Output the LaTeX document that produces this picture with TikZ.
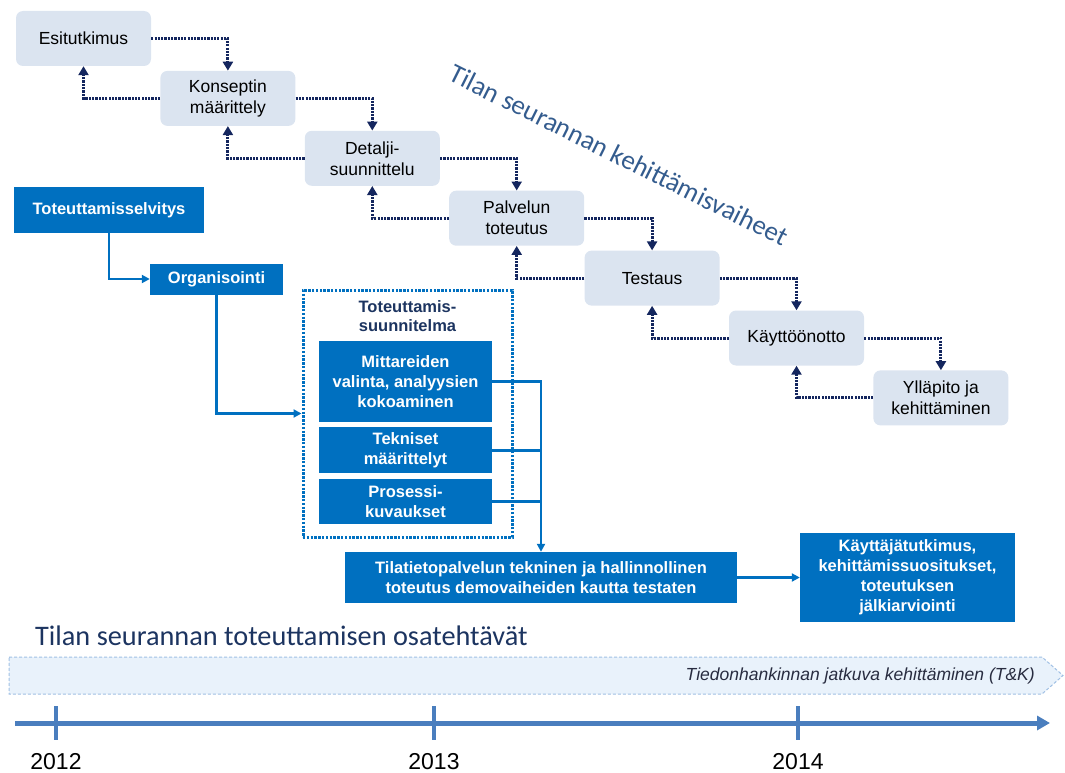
\documentclass[tikz,border=0pt]{standalone}
\usepackage{fontspec}
\setmainfont{Liberation Sans}
\newfontfamily\calibri{Carlito}
\usetikzlibrary{positioning,arrows.meta}

\definecolor{phasefill}{RGB}{219,228,240}
\definecolor{phasenavy}{RGB}{20,38,94}
\definecolor{taskblue}{RGB}{0,112,192}
\definecolor{titlenavy}{RGB}{28,52,96}
\definecolor{diagblue}{RGB}{52,92,142}
\definecolor{bandfill}{RGB}{233,242,251}
\definecolor{bandline}{RGB}{160,192,228}
\definecolor{bandtext}{RGB}{40,44,64}
\definecolor{axisblue}{RGB}{74,126,190}

\begin{document}
\begin{tikzpicture}[x=1pt,y=-1pt]

\tikzstyle{phase}=[fill=phasefill, rounded corners=7pt, minimum width=135pt, minimum height=55pt, inner sep=0pt, align=center, font=\fontsize{17.5}{21}\selectfont]
\tikzstyle{task}=[fill=taskblue, text=white, inner sep=0pt, align=center, font=\fontsize{16.5}{20}\selectfont\bfseries]
\tikzstyle{plan}=[draw=taskblue, line width=3pt, dash pattern=on 2.4pt off 1.4pt, minimum width=209pt, minimum height=247pt]
\tikzstyle{dotarrow}=[-{Triangle[length=9pt,width=10pt]}, draw=phasenavy, line width=3pt, dash pattern=on 2.2pt off 1.1pt]
\tikzstyle{flow}=[-{Triangle[length=8pt,width=8pt]}, draw=taskblue, line width=2.5pt]
\tikzstyle{flowline}=[draw=taskblue, line width=2.5pt]
\tikzstyle{axis}=[-{Triangle[length=13pt,width=14pt]}, draw=axisblue, line width=5pt]
\tikzstyle{tick}=[draw=axisblue, line width=4.5pt]
\tikzstyle{year}=[font=\fontsize{23}{25}\selectfont]

\useasboundingbox (0,0) rectangle (1065,773);

% kehittamisvaiheet
\node[phase] (esi) at (83.5,38.5) {Esitutkimus};
\node[phase, below right=4.5pt and 9pt of esi] (kon) {Konseptin\\määrittely};
\node[phase, below right=4.5pt and 9pt of kon] (det) {Detalji-\\suunnittelu};
\node[phase, below right=4.5pt and 9pt of det] (pal) {Palvelun\\toteutus};
\node[phase, below right=4.5pt and 0pt of pal] (tes) {Testaus};
\node[phase, below right=4.5pt and 9pt of tes] (kay) {Käyttöönotto};
\node[phase, below right=4.5pt and 9pt of kay] (yll) {Ylläpito ja\\kehittäminen};

\draw[dotarrow] (esi.east) -| (kon.north);
\draw[dotarrow] (kon.east) -| (det.north);
\draw[dotarrow] (det.east) -| (pal.north);
\draw[dotarrow] (pal.east) -| (tes.north);
\draw[dotarrow] (tes.east) -| (kay.north);
\draw[dotarrow] (kay.east) -| (yll.north);

\draw[dotarrow] (kon.west) -| (esi.south);
\draw[dotarrow] (det.west) -| (kon.south);
\draw[dotarrow] (pal.west) -| (det.south);
\draw[dotarrow] (tes.west) -| (pal.south);
\draw[dotarrow] (kay.west) -| (tes.south);
\draw[dotarrow] (yll.west) -| (kay.south);

\node[rotate=-26.5, text=diagblue, font=\calibri\fontsize{27}{29}\selectfont] (phasetitle) at (619,155) {Tilan seurannan kehittämisvaiheet};

% osatehtavat
\node[task, minimum width=190pt, minimum height=46pt] (sel) at (109,210) {Toteuttamisselvitys};
\node[task, minimum width=133pt, minimum height=31pt] (org) at (216.5,279) {Organisointi};
\node[plan] (plan) at (407.5,413.5) {};
\node[text=titlenavy, inner sep=0pt, align=center, font=\fontsize{16.5}{19}\selectfont\bfseries] (plantitle) at (407.5,316) {Toteuttamis-\\suunnitelma};
\node[task, minimum width=173pt, minimum height=81pt] (mit) at (405.5,381.5) {Mittareiden\\valinta, analyysien\\kokoaminen};
\node[task, minimum width=173pt, minimum height=46pt, below=5pt of mit] (tek) {Tekniset\\määrittelyt};
\node[task, minimum width=173pt, minimum height=45pt, below=5pt of tek] (pro) {Prosessi-\\kuvaukset};
\node[task, minimum width=392pt, minimum height=51pt] (tila) at (541,577.5) {Tilatietopalvelun tekninen ja hallinnollinen\\toteutus demovaiheiden kautta testaten};
\node[task, minimum width=215pt, minimum height=89pt] (kt) at (907.5,577.5) {Käyttäjätutkimus,\\kehittämissuositukset,\\toteutuksen\\jälkiarviointi};

\draw[flow] (sel.south) |- (org.west);
\draw[flow] (org.south) |- (plan.west);
\draw[flow] (mit.east) -| (tila.north);
\draw[flowline] (tek.east) -- (tek.east -| tila.north);
\draw[flowline] (pro.east) -- (pro.east -| tila.north);
\draw[flow] (tila.east) -- (kt.west);

\node[anchor=west, inner sep=0pt, text=titlenavy, font=\calibri\fontsize{28.3}{30}\selectfont] (tasktitle) at (35,636) {Tilan seurannan toteuttamisen osatehtävät};

% aikajana
\draw[draw=bandline, fill=bandfill, line width=1pt, dash pattern=on 3pt off 2pt] (9,657) -- (1042,657) -- (1063,675.5) -- (1042,694) -- (9,694) -- cycle;
\node[anchor=east, inner sep=0pt, text=bandtext, font=\fontsize{17.5}{20}\selectfont\itshape] (tk) at (1035,676) {Tiedonhankinnan jatkuva kehittäminen (T\&K)};

\coordinate (axstart) at (15,723);
\coordinate (axend) at (1050,723);
\draw[axis] (axstart) -- (axend);

\draw[tick] (56,706) -- (56,740);
\draw[tick] (434,706) -- (434,740);
\draw[tick] (798,706) -- (798,740);
\node[year] (y2012) at (56,762) {2012};
\node[year] (y2013) at (434,762) {2013};
\node[year] (y2014) at (798,762) {2014};

\end{tikzpicture}
\end{document}
